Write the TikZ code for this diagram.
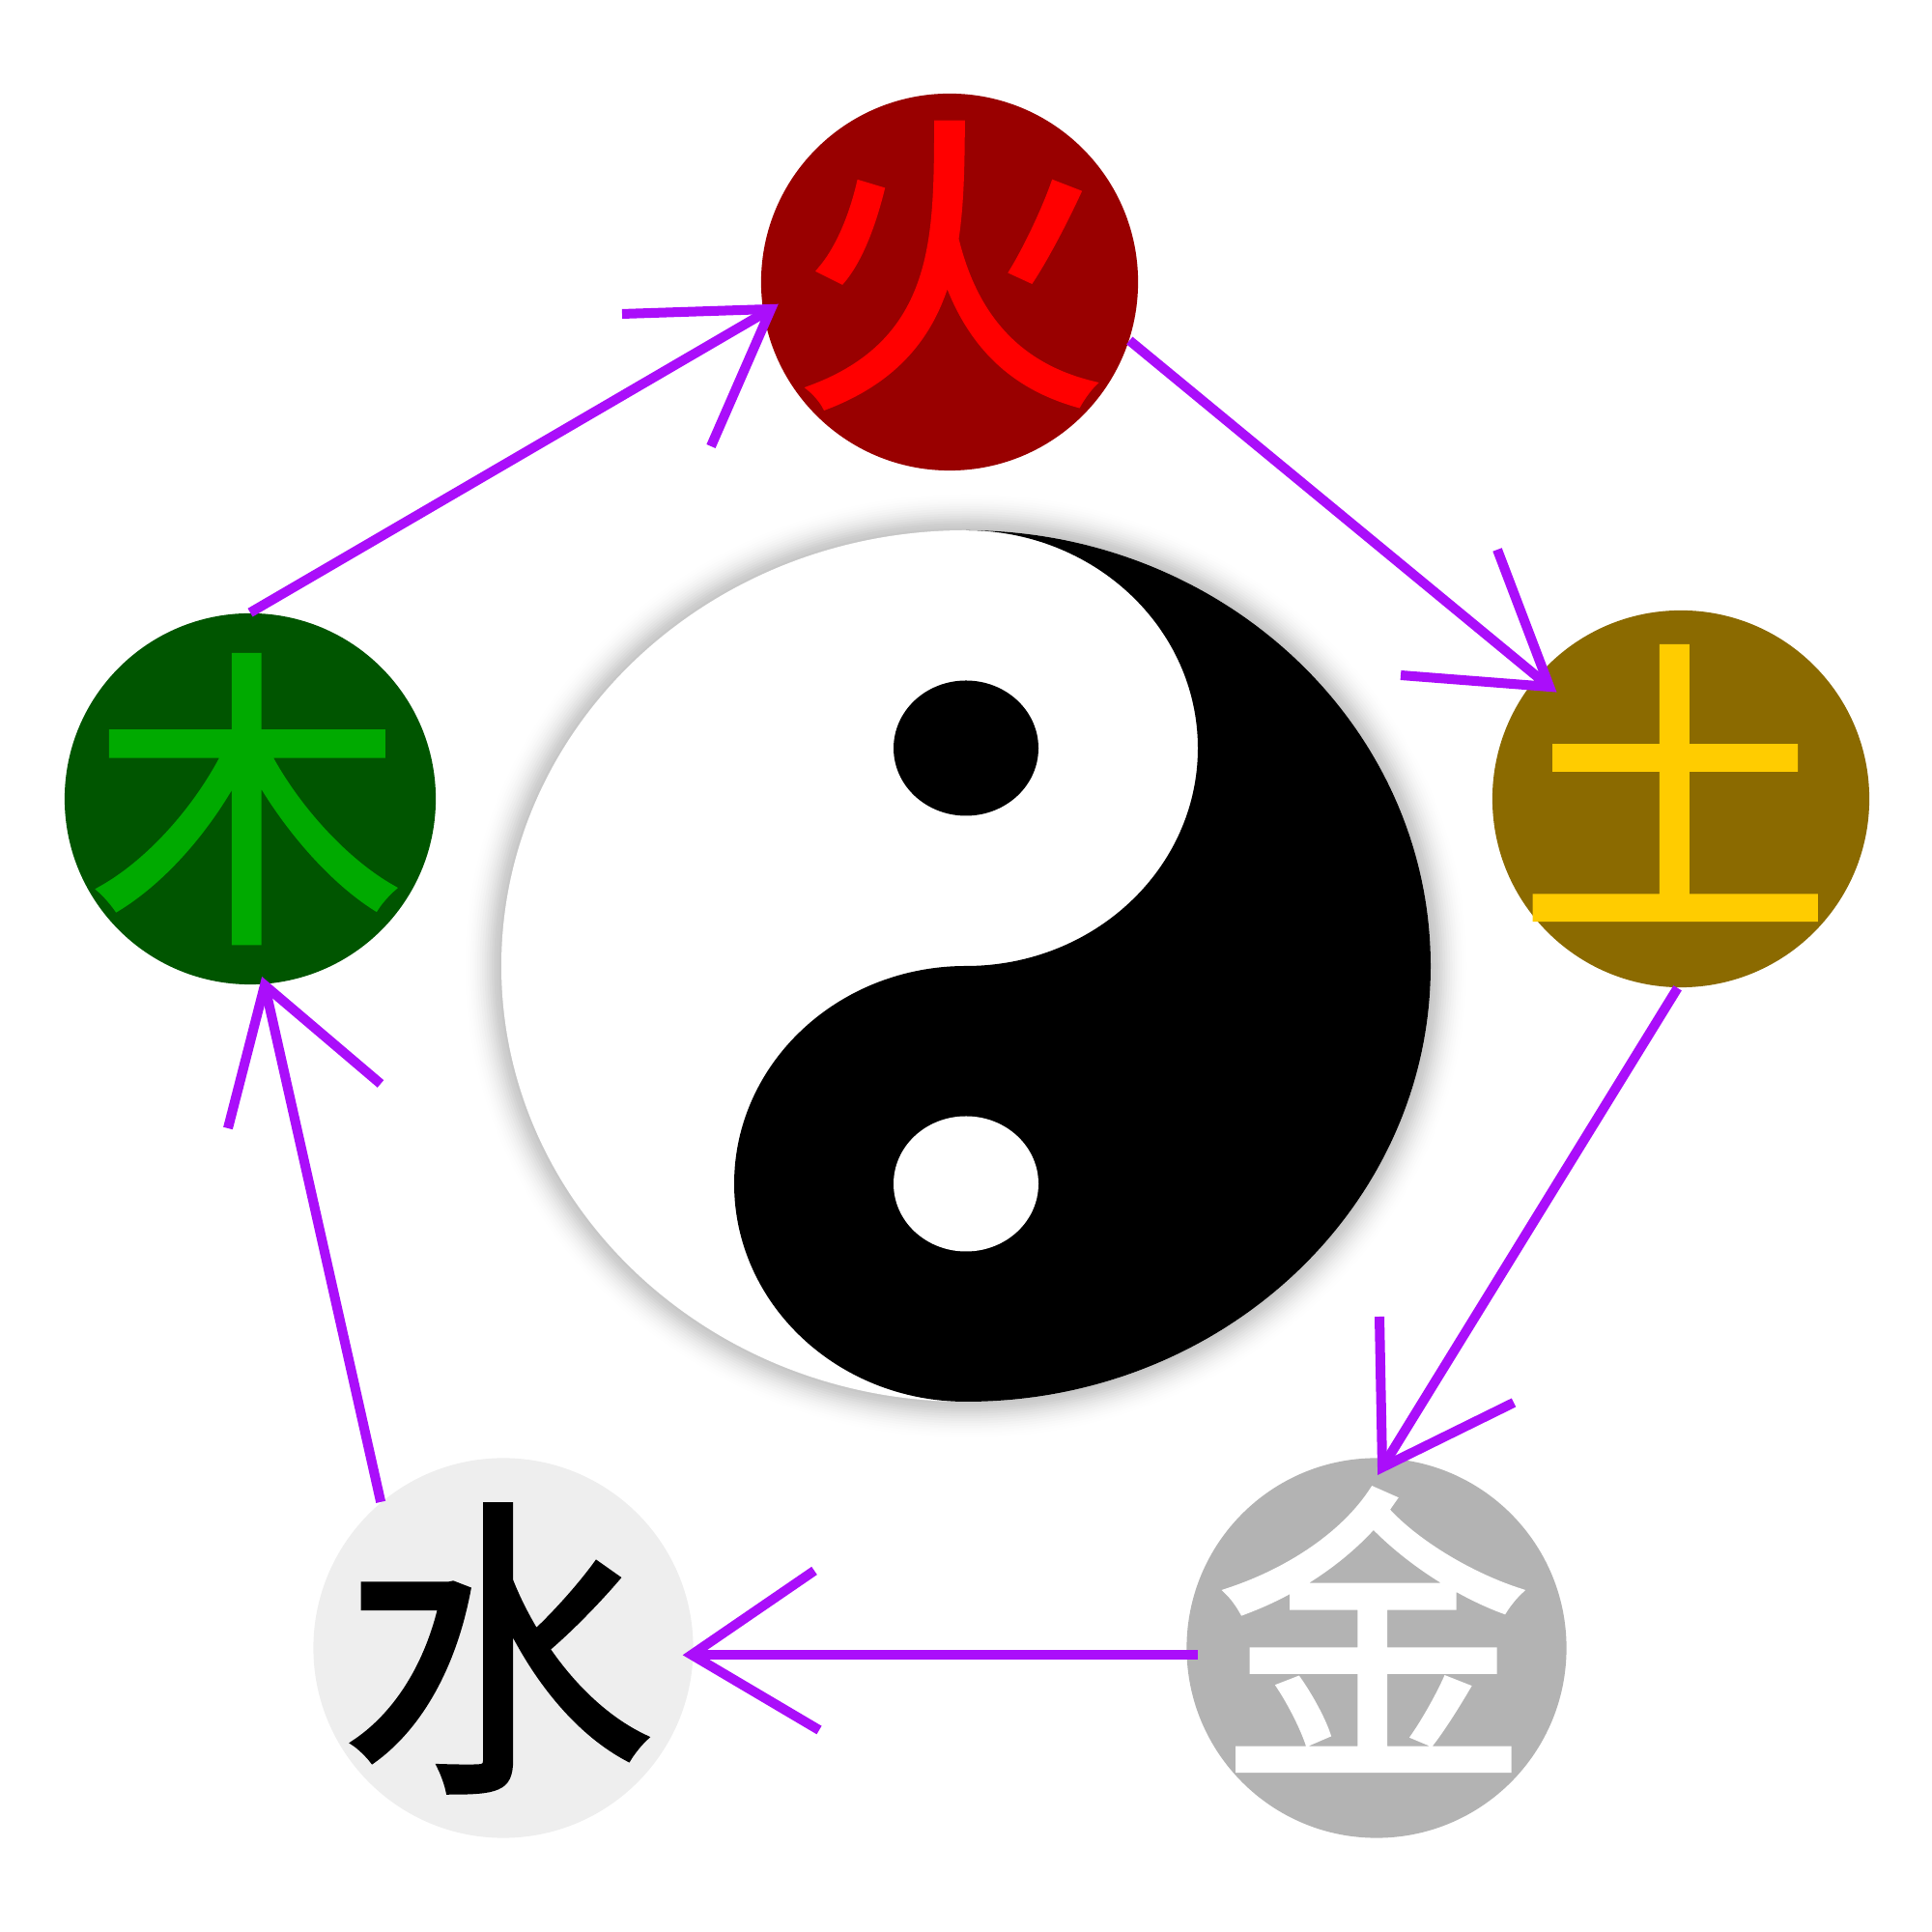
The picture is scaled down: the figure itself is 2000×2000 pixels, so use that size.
\documentclass[tikz,border=0pt]{standalone}
\usepackage{xcolor}
\usepackage{fontspec}
\newfontfamily\cjk[FakeBold=1.6]{Noto Sans CJK SC}
\usetikzlibrary{calc}
\definecolor{figP}{RGB}{170,14,250}
\definecolor{figFire}{RGB}{153,0,0}
\definecolor{figWood}{RGB}{0,85,0}
\definecolor{figEarth}{RGB}{139,106,0}
\definecolor{figMetal}{RGB}{179,179,179}
\definecolor{figWater}{RGB}{238,238,238}
\newcommand{\elemglyph}[3]{\makebox[0pt]{\kern#1\raisebox{#2}[0pt][0pt]{#3}}}
\tikzset{
  elem/.style={circle, inner sep=0pt, minimum size=3.9cm, font=\cjk\fontsize{92}{92}\selectfont},
  flowline/.style={figP, line width=2.85pt, line join=miter, miter limit=10}
}
\begin{document}
\begin{tikzpicture}[x=0.01cm, y=0.01cm]
\useasboundingbox (0,0) rectangle (2000,2000);
% Centre: soft shadow, then the two halves
\foreach \i in {1,...,16} {
  \pgfmathsetmacro{\shadeop}{0.032*(1-\i/17)}
  \fill[black, fill opacity=\shadeop] (1000,1000) ellipse[x radius=481+2.5*\i, y radius=451+2.5*\i];
}
\fill[white] (1000,1000) ellipse[x radius=481, y radius=451];
\fill[black] (1000,1451) arc[start angle=90, end angle=-90, x radius=481, y radius=451]
  arc[start angle=270, end angle=90, x radius=240, y radius=225.5]
  arc[start angle=-90, end angle=90, x radius=240, y radius=225.5] -- cycle;
\fill[black] (1000,1225.5) ellipse[x radius=75, y radius=70];
\fill[white] (1000,774.5) ellipse[x radius=75, y radius=70];
% Outer ring of elements
\node[elem, fill=figFire, text=red] (nFire) at (983,1708) {\elemglyph{0pt}{-0.32em}{火}};
\node[elem, fill=figEarth, text={rgb,255:red,255;green,204;blue,0}] (nEarth) at (1740,1173) {\elemglyph{-3.4pt}{-0.35em}{土}};
\node[elem, fill=figMetal, text=white, minimum size=3.93cm] (nMetal) at (1425,294) {\elemglyph{-2pt}{-0.34em}{金}};
\node[elem, fill=figWater, text=black, minimum size=3.93cm] (nWater) at (521,294) {\elemglyph{-3.4pt}{-0.38em}{水}};
\node[elem, fill=figWood, text={rgb,255:red,0;green,170;blue,0}, minimum size=3.84cm] (nWood) at (259,1173) {\elemglyph{-2pt}{-0.38em}{木}};
% Arrow ends sit a little inside the circles
\coordinate (tFire) at (798,1680);
\coordinate (tEarth) at (1604,1289);
\coordinate (tMetal) at (1431,481);
\coordinate (tWater) at (716,287);
\coordinate (tWood) at (274,980);
\coordinate (sMetal) at (1240,287);
% Shafts
\draw[flowline] (nWood.north) -- (tFire);
\draw[flowline] (nFire.-18) -- (tEarth);
\draw[flowline] (nEarth.-91) -- (tMetal);
\draw[flowline] (sMetal) -- (tWater);
\draw[flowline] (nWater.130) -- (tWood);
% Barbs
\draw[flowline] (644,1675) -- (tFire) -- (736,1538);
\draw[flowline] (1450,1301) -- (tEarth) -- (1550,1431);
\draw[flowline] (1428,637) -- (tMetal) -- (1567,548);
\draw[flowline] (843,374) -- (tWater) -- (848,209);
\draw[flowline] (236,832) -- (tWood) -- (394,878);
\end{tikzpicture}
\end{document}
